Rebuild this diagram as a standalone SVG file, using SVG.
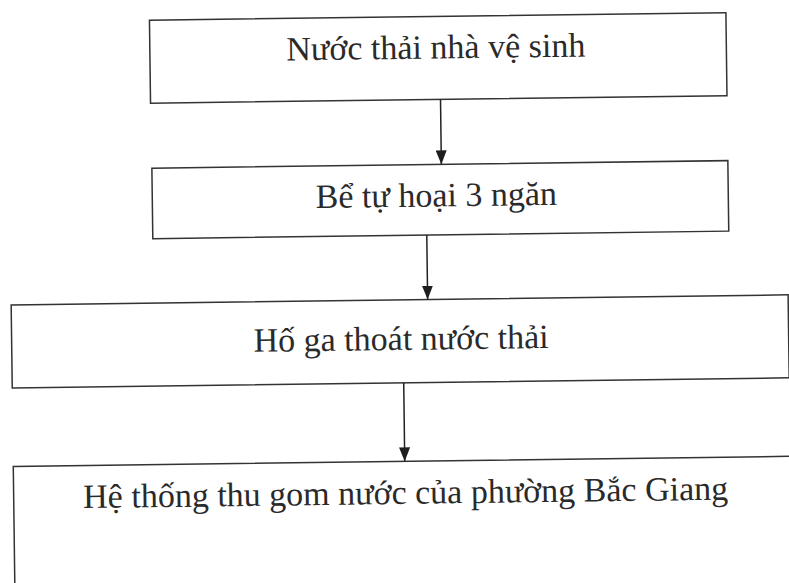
<svg xmlns="http://www.w3.org/2000/svg" width="789" height="583" viewBox="0 0 789 583">
<defs>
<style>
.box{fill:none;stroke:#333333;stroke-width:1.5}
.lbl{font-family:"Liberation Serif","Times New Roman",serif;font-size:34px;fill:#2a2a2a;text-anchor:middle}
.conn{stroke:#222;stroke-width:1.5;fill:none}
</style>
<marker id="ah" markerUnits="userSpaceOnUse" markerWidth="14" markerHeight="11" refX="14" refY="5.5" orient="auto">
<path d="M0,0 L14,5.5 L0,11 z" fill="#1e1e1e"/>
</marker>
</defs>
<rect width="789" height="583" fill="#ffffff"/>
<g transform="rotate(-0.75 395 290)">
<g id="n1">
<rect class="box" x="153" y="17" width="576.5" height="83"/>
<text class="lbl" x="439" y="59">Nước thải nhà vệ sinh</text>
</g>
<g id="n2">
<rect class="box" x="153.5" y="165" width="576" height="70.5"/>
<text class="lbl" x="437.5" y="207">Bể tự hoại 3 ngăn</text>
</g>
<g id="n3">
<rect class="box" x="11" y="300" width="777" height="83"/>
<text class="lbl" x="400.5" y="350">Hố ga thoát nước thải</text>
</g>
<g id="n4">
<rect class="box" x="11" y="461.5" width="777" height="140"/>
<text class="lbl" x="403" y="504">Hệ thống thu gom nước của phường Bắc Giang</text>
</g>
<g id="connectors">
<line class="conn" x1="443" y1="100" x2="443" y2="165" marker-end="url(#ah)"/>
<line class="conn" x1="427.5" y1="235.5" x2="427.5" y2="300" marker-end="url(#ah)"/>
<line class="conn" x1="402.5" y1="383" x2="402.5" y2="461.5" marker-end="url(#ah)"/>
</g>
</g>
</svg>
